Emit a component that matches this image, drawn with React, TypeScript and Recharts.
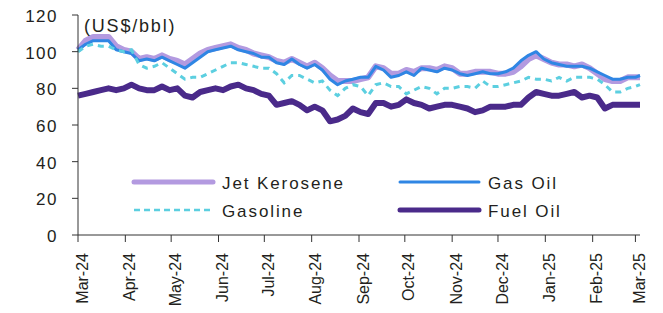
import { LineChart, Line, XAxis, YAxis, Legend } from "recharts";

// days since 1 Mar 2024, roughly one reading per trading week
const days = [
  0, 5, 10, 15, 20, 25, 30, 35, 40, 45, 50, 55, 60, 65, 70, 75, 80, 85, 90, 95,
  100, 105, 110, 115, 120, 125, 130, 135, 140, 145, 150, 155, 160, 165, 170, 175,
  180, 185, 190, 195, 200, 205, 210, 215, 220, 225, 230, 235, 240, 245, 250, 255,
  260, 265, 270, 275, 280, 285, 290, 295, 300, 305, 310, 315, 320, 325, 330, 335,
  340, 345, 350, 355, 360, 365, 368,
];

const jetKerosene = [
  101, 106, 108, 108, 108, 103, 101, 100, 96, 97, 96, 98, 96, 95, 93, 96, 99, 101,
  102, 103, 104, 102, 101, 99, 98, 97, 95, 94, 96, 94, 92, 94, 91, 87, 84, 84, 84,
  85, 86, 92, 91, 88, 88, 90, 89, 91, 91, 90, 92, 91, 88, 88, 89, 89, 89, 88, 88,
  89, 92, 96, 98, 96, 94, 93, 93, 92, 93, 91, 88, 85, 84, 84, 86, 86, 86,
];

const gasOil = [
  101, 104, 106, 106, 106, 101, 100, 99, 95, 96, 95, 97, 95, 93, 91, 94, 97, 100,
  101, 102, 103, 101, 100, 99, 97, 97, 94, 93, 96, 93, 91, 93, 90, 85, 82, 84, 85,
  86, 86, 92, 90, 86, 87, 89, 87, 91, 90, 89, 91, 90, 88, 87, 88, 89, 88, 88, 89,
  91, 95, 98, 100, 96, 94, 93, 92, 92, 92, 91, 89, 87, 85, 85, 86, 86, 87,
];

const gasoline = [
  100, 103, 104, 103, 103, 101, 100, 101, 93, 91, 92, 94, 91, 88, 85, 86, 86, 88,
  90, 92, 94, 94, 93, 92, 91, 91, 88, 83, 87, 87, 85, 83, 84, 79, 76, 80, 82, 81,
  76, 82, 83, 81, 81, 77, 79, 81, 80, 77, 80, 80, 81, 81, 80, 84, 81, 81, 82, 83,
  84, 86, 85, 85, 84, 86, 84, 86, 86, 86, 85, 82, 78, 78, 80, 81, 82,
];

const fuelOil = [
  76, 77, 78, 79, 80, 79, 80, 82, 80, 79, 79, 81, 79, 80, 76, 75, 78, 79, 80, 79,
  81, 82, 80, 79, 77, 76, 71, 72, 73, 71, 68, 70, 68, 62, 63, 65, 69, 67, 66, 72,
  72, 70, 71, 74, 72, 71, 69, 70, 71, 71, 70, 69, 67, 68, 70, 70, 70, 71, 71, 75,
  78, 77, 76, 76, 77, 78, 75, 76, 75, 69, 71, 71, 71, 71, 71,
];

// month starts (days since 1 Mar 2024) and their labels
const monthTicks = [0, 31, 61, 92, 122, 153, 184, 214, 245, 275, 306, 337, 365];
const monthLabels = [
  "Mar-24", "Apr-24", "May-24", "Jun-24", "Jul-24", "Aug-24", "Sep-24",
  "Oct-24", "Nov-24", "Dec-24", "Jan-25", "Feb-25", "Mar-25",
];

const yTicks = [0, 20, 40, 60, 80, 100, 120];

const data = days.map((d, i) => ({
  day: d,
  jet: jetKerosene[i],
  gasOil: gasOil[i],
  gasoline: gasoline[i],
  fuelOil: fuelOil[i],
}));

const FONT = "'Liberation Sans', Arial, sans-serif";
const INK = "#231f20";

const JET = "#b39ae0";
const GASOIL = "#2f86e4";
const GASOLINE = "#5ccfe0";
const FUEL = "#4a2a8a";

function XTick({ x, y, payload }: any) {
  const i = monthTicks.indexOf(payload.value);
  return (
    <g transform={`translate(${x},${y})`}>
      <text
        transform="rotate(-90)"
        x={-9}
        y={4}
        dy="0.35em"
        textAnchor="end"
        fontSize={16}
        fontFamily={FONT}
        fill={INK}
      >
        {monthLabels[i]}
      </text>
    </g>
  );
}

function YTick({ x, y, payload }: any) {
  return (
    <text
      x={x - 12}
      y={y + 1}
      dy="0.35em"
      textAnchor="end"
      fontSize={17}
      letterSpacing={1.5}
      fontFamily={FONT}
      fill={INK}
    >
      {payload.value}
    </text>
  );
}

function UnitLabel({ viewBox }: any) {
  return (
    <text
      x={viewBox.x + viewBox.width + 6}
      y={32}
      fontSize={18}
      letterSpacing={1.8}
      fontFamily={FONT}
      fill={INK}
    >
      (US$/bbl)
    </text>
  );
}

const legendItems = [
  { name: "Jet Kerosene", color: JET, width: 5, dash: undefined, x: 134, y: 182 },
  { name: "Gas Oil", color: GASOIL, width: 3, dash: undefined, x: 400, y: 182 },
  { name: "Gasoline", color: GASOLINE, width: 2.5, dash: "6 4", x: 134, y: 210 },
  { name: "Fuel Oil", color: FUEL, width: 5, dash: undefined, x: 400, y: 210 },
];

function ChartLegend() {
  return (
    <svg width={663} height={313} style={{ display: "block" }}>
      {legendItems.map((it) => (
        <g key={it.name}>
          <line
            x1={it.x}
            x2={it.x + 79}
            y1={it.y}
            y2={it.y}
            stroke={it.color}
            strokeWidth={it.width}
            strokeDasharray={it.dash}
            strokeLinecap={it.dash ? "butt" : "round"}
          />
          <text
            x={it.x + 88}
            y={it.y + 7}
            fontSize={17}
            letterSpacing={1.9}
            fontFamily={FONT}
            fill={INK}
          >
            {it.name}
          </text>
        </g>
      ))}
    </svg>
  );
}

export default function App() {
  return (
    <div style={{ position: "absolute", left: 0, top: 0, background: "#fff" }}>
      <LineChart
        width={663}
        height={313}
        data={data}
        margin={{ top: 15, right: 23, left: 0, bottom: 0 }}
      >
        <XAxis
          dataKey="day"
          type="number"
          domain={[0, 368]}
          ticks={monthTicks}
          interval={0}
          height={78}
          tick={<XTick />}
          tickSize={7}
          stroke="#333"
          axisLine={{ stroke: "#333" }}
          tickLine={{ stroke: "#333" }}
        />
        <YAxis
          domain={[0, 120]}
          ticks={yTicks}
          interval={0}
          width={78}
          tick={<YTick />}
          tickSize={6}
          axisLine={{ stroke: "#333" }}
          tickLine={{ stroke: "#333" }}
          label={<UnitLabel />}
        />
        <Legend
          layout="vertical"
          align="center"
          verticalAlign="middle"
          wrapperStyle={{ position: "absolute", left: 0, top: 0, width: 663, height: 313, pointerEvents: "none" }}
          content={<ChartLegend />}
        />
        <Line
          type="linear"
          dataKey="jet"
          name="Jet Kerosene"
          stroke={JET}
          strokeWidth={6}
          dot={false}
          strokeLinejoin="round"
          isAnimationActive={false}
        />
        <Line
          type="linear"
          dataKey="gasOil"
          name="Gas Oil"
          stroke={GASOIL}
          strokeWidth={3}
          dot={false}
          strokeLinejoin="round"
          isAnimationActive={false}
        />
        <Line
          type="linear"
          dataKey="gasoline"
          name="Gasoline"
          stroke={GASOLINE}
          strokeWidth={3}
          strokeDasharray="6 5"
          dot={false}
          isAnimationActive={false}
        />
        <Line
          type="linear"
          dataKey="fuelOil"
          name="Fuel Oil"
          stroke={FUEL}
          strokeWidth={6}
          dot={false}
          strokeLinejoin="round"
          isAnimationActive={false}
        />
      </LineChart>
    </div>
  );
}
